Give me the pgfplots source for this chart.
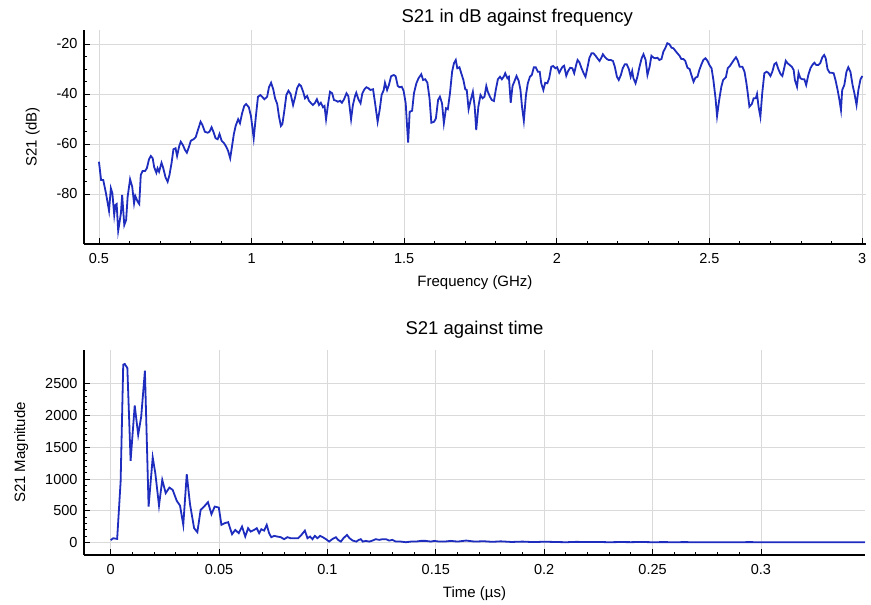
\documentclass[border=0pt]{standalone}
\usepackage{fontspec}
\setmainfont{Liberation Sans}
\usepackage{pgfplots}
\pgfplotsset{compat=1.18}
\definecolor{trace}{RGB}{30,45,190}
\definecolor{gridgray}{RGB}{218,218,218}

\pgfplotsset{
  scopeplot/.style={
    scale only axis,
    axis x line*=bottom, axis y line*=left,
    axis line style={black, line width=1.3pt},
    grid=major, major grid style={gridgray, line width=0.9pt},
    tick style={black, line width=0.9pt},
    major tick length=6pt, minor tick length=3pt,
    tick label style={font=\fontsize{14.5}{16}\selectfont},
    xticklabel style={yshift=-6pt},
    yticklabel style={xshift=-3pt},
    label style={font=\fontsize{15}{18}\selectfont},
    xlabel style={yshift=-5pt},
    ylabel style={yshift=10pt},
    title style={font=\fontsize{18.5}{21}\selectfont, anchor=south, yshift=2pt},
    /pgf/number format/assume math mode=true,
    /pgf/number format/set thousands separator={},
  }
}

\begin{document}
\begin{tikzpicture}
\path[use as bounding box] (-84pt,-361pt) rectangle (787pt,244pt);

% S21 (dB) vs frequency
\begin{axis}[scopeplot,
  at={(0pt,0pt)}, anchor=south west,
  width=782pt, height=214pt,
  xmin=0.451, xmax=3.013, ymin=-100, ymax=-14.4,
  xtick={0.5,1,1.5,2,2.5,3}, xticklabels={0.5,1,1.5,2,2.5,3},
  ytick={-80,-60,-40,-20}, yticklabels={-80,-60,-40,-20},
  minor x tick num=4, minor y tick num=3,
  title={S21 in dB against frequency},
  title style={at={(0.554,1)}, yshift=-8pt},
  xlabel={Frequency (GHz)}, ylabel={S21 (dB)},
]
\addplot[trace, line width=1.8pt] coordinates {
(0.500,-67.1) (0.507,-74.4) (0.514,-74.4) (0.523,-79.7) (0.533,-86.7) (0.539,-77.7)
(0.544,-79.7) (0.550,-88.4) (0.554,-84.4) (0.558,-84.0) (0.563,-94.7) (0.572,-87.7)
(0.576,-80.4) (0.583,-92.4) (0.589,-90.4) (0.594,-81.1) (0.602,-74.1) (0.609,-77.1)
(0.615,-83.7) (0.619,-80.8) (0.627,-83.1) (0.632,-84.0) (0.637,-72.4) (0.643,-70.8)
(0.651,-70.8) (0.657,-69.7) (0.664,-66.1) (0.670,-64.8) (0.676,-65.7) (0.681,-69.3)
(0.688,-71.5) (0.692,-69.7) (0.697,-71.1) (0.705,-67.5) (0.710,-69.3) (0.718,-73.3)
(0.725,-75.1) (0.731,-72.4) (0.738,-67.5) (0.744,-62.1) (0.751,-61.7) (0.756,-64.8)
(0.763,-60.8) (0.768,-59.1) (0.775,-60.4) (0.782,-62.4) (0.788,-63.5) (0.795,-61.1)
(0.801,-58.7) (0.810,-58.1) (0.817,-57.3) (0.825,-54.1) (0.833,-51.1) (0.839,-52.4)
(0.847,-55.1) (0.856,-55.5) (0.862,-55.1) (0.869,-53.3) (0.875,-55.1) (0.882,-57.7)
(0.889,-58.1) (0.895,-56.0) (0.902,-58.7) (0.910,-59.7) (0.917,-61.1) (0.923,-62.7)
(0.930,-65.7) (0.935,-61.7) (0.942,-56.0) (0.948,-52.7) (0.956,-50.1) (0.962,-51.7)
(0.969,-47.7) (0.976,-44.8) (0.982,-44.0) (0.991,-45.3) (0.998,-48.8) (1.007,-57.7)
(1.014,-49.1) (1.021,-41.1) (1.029,-40.4) (1.036,-41.3) (1.042,-42.1) (1.051,-41.1)
(1.057,-37.3) (1.064,-35.5) (1.071,-38.1) (1.077,-41.7) (1.084,-44.0) (1.090,-49.1)
(1.096,-52.8) (1.101,-52.0) (1.108,-46.1) (1.114,-40.4) (1.121,-38.7) (1.128,-40.0)
(1.136,-44.4) (1.143,-41.1) (1.149,-37.7) (1.156,-36.1) (1.162,-36.8) (1.169,-39.1)
(1.175,-41.7) (1.182,-40.8) (1.188,-42.7) (1.195,-43.7) (1.201,-44.4) (1.208,-43.5)
(1.214,-42.1) (1.221,-44.4) (1.227,-43.5) (1.234,-45.3) (1.239,-44.8) (1.244,-50.1)
(1.251,-43.7) (1.257,-39.1) (1.264,-39.7) (1.270,-42.4) (1.277,-42.7) (1.283,-43.1)
(1.290,-42.7) (1.296,-43.5) (1.303,-42.1) (1.311,-39.7) (1.317,-40.8) (1.326,-50.1)
(1.332,-44.4) (1.339,-40.8) (1.343,-39.5) (1.350,-42.1) (1.357,-43.7) (1.363,-39.7)
(1.370,-38.1) (1.376,-37.3) (1.383,-37.7) (1.389,-38.4) (1.398,-38.1) (1.404,-43.1)
(1.413,-51.1) (1.420,-46.1) (1.426,-40.4) (1.433,-38.4) (1.437,-35.5) (1.444,-38.4)
(1.450,-36.4) (1.457,-32.9) (1.466,-32.4) (1.472,-32.9) (1.479,-36.8) (1.485,-37.3)
(1.492,-37.1) (1.498,-38.7) (1.505,-43.7) (1.509,-52.0) (1.513,-59.4) (1.518,-47.1)
(1.526,-46.7) (1.532,-39.7) (1.540,-35.7) (1.547,-33.7) (1.556,-32.1) (1.562,-34.4)
(1.569,-34.1) (1.576,-35.5) (1.583,-41.7) (1.589,-51.5) (1.598,-51.1) (1.604,-49.7)
(1.611,-42.4) (1.617,-41.1) (1.624,-43.7) (1.630,-51.7) (1.637,-45.7) (1.643,-46.1)
(1.650,-39.7) (1.657,-31.1) (1.663,-27.7) (1.669,-26.4) (1.674,-29.7) (1.681,-29.3)
(1.687,-31.7) (1.694,-34.4) (1.700,-38.1) (1.705,-38.4) (1.711,-46.1) (1.718,-42.4)
(1.725,-39.1) (1.731,-45.1) (1.736,-54.4) (1.743,-45.1) (1.750,-40.4) (1.757,-41.7)
(1.763,-41.1) (1.769,-36.8) (1.774,-39.1) (1.781,-41.1) (1.787,-42.4) (1.794,-42.8)
(1.800,-38.4) (1.807,-34.1) (1.814,-33.1) (1.820,-34.1) (1.827,-32.9) (1.831,-31.7)
(1.838,-33.7) (1.843,-33.1) (1.849,-43.5) (1.855,-36.8) (1.862,-34.7) (1.868,-32.8)
(1.875,-34.7) (1.881,-38.4) (1.886,-45.1) (1.892,-50.7) (1.899,-40.4) (1.905,-35.7)
(1.912,-33.1) (1.918,-32.4) (1.925,-29.3) (1.931,-29.3) (1.938,-31.1) (1.944,-31.1)
(1.949,-35.7) (1.956,-38.4) (1.962,-35.5) (1.969,-35.7) (1.975,-33.7) (1.982,-29.1)
(1.988,-28.8) (1.995,-29.7) (2.001,-29.3) (2.008,-31.5) (2.014,-30.1) (2.019,-29.1)
(2.024,-28.7) (2.031,-32.7) (2.037,-30.8) (2.044,-29.5) (2.051,-29.7) (2.057,-31.7)
(2.064,-28.1) (2.068,-26.4) (2.074,-27.3) (2.081,-29.7) (2.088,-31.7) (2.094,-33.1)
(2.101,-29.1) (2.107,-25.5) (2.114,-23.7) (2.120,-23.7) (2.127,-24.7) (2.133,-25.7)
(2.140,-26.8) (2.146,-25.5) (2.151,-24.1) (2.157,-25.1) (2.164,-26.0) (2.170,-26.4)
(2.177,-26.4) (2.184,-26.8) (2.190,-29.1) (2.197,-33.1) (2.203,-34.4) (2.210,-32.4)
(2.216,-29.7) (2.223,-28.1) (2.229,-28.1) (2.236,-30.0) (2.242,-33.1) (2.247,-30.8)
(2.251,-33.7) (2.258,-35.7) (2.264,-33.1) (2.271,-29.1) (2.278,-25.7) (2.284,-24.1)
(2.291,-26.4) (2.297,-32.4) (2.304,-29.1) (2.310,-24.7) (2.317,-25.5) (2.323,-25.7)
(2.330,-25.5) (2.336,-26.4) (2.343,-26.0) (2.349,-23.1) (2.356,-21.5) (2.362,-19.7)
(2.369,-20.1) (2.376,-21.5) (2.382,-21.7) (2.389,-22.8) (2.395,-23.7) (2.402,-24.7)
(2.408,-26.0) (2.415,-26.0) (2.421,-26.8) (2.428,-29.5) (2.435,-30.0) (2.441,-32.4)
(2.448,-35.1) (2.454,-33.5) (2.461,-33.1) (2.467,-30.4) (2.474,-28.1) (2.480,-26.4)
(2.487,-25.7) (2.494,-26.8) (2.500,-28.4) (2.507,-29.7) (2.513,-34.4) (2.520,-41.7)
(2.525,-48.8) (2.532,-42.4) (2.539,-37.1) (2.545,-34.4) (2.554,-33.3) (2.560,-29.7)
(2.567,-28.8) (2.573,-27.7) (2.580,-26.4) (2.587,-25.3) (2.593,-26.7) (2.599,-29.1)
(2.608,-29.1) (2.615,-31.1) (2.621,-35.5) (2.625,-39.1) (2.631,-45.1) (2.639,-44.0)
(2.645,-41.7) (2.652,-41.7) (2.656,-40.0) (2.661,-45.1) (2.667,-49.1) (2.673,-39.7)
(2.680,-31.7) (2.687,-31.1) (2.693,-31.5) (2.700,-32.8) (2.706,-31.1) (2.713,-28.0)
(2.719,-27.5) (2.726,-30.1) (2.733,-32.0) (2.739,-32.8) (2.746,-29.1) (2.750,-26.7)
(2.756,-27.7) (2.763,-28.4) (2.770,-29.1) (2.776,-30.4) (2.780,-34.4) (2.787,-37.1)
(2.792,-31.5) (2.798,-33.7) (2.804,-34.1) (2.811,-34.1) (2.817,-36.4) (2.824,-32.4)
(2.831,-29.7) (2.837,-28.4) (2.844,-27.5) (2.850,-28.4) (2.857,-28.4) (2.863,-27.7)
(2.870,-25.3) (2.876,-24.4) (2.881,-25.7) (2.887,-30.1) (2.894,-31.5) (2.900,-31.5)
(2.907,-31.7) (2.913,-34.4) (2.920,-38.4) (2.926,-42.4) (2.931,-46.4) (2.935,-38.4)
(2.942,-36.4) (2.949,-31.1) (2.955,-29.3) (2.962,-31.1) (2.969,-36.4) (2.975,-39.7)
(2.982,-44.4) (2.988,-38.4) (2.995,-34.1) (3.001,-32.8)
};
\end{axis}

% S21 magnitude vs time
\begin{axis}[scopeplot,
  at={(0pt,-311pt)}, anchor=south west,
  width=781pt, height=205pt,
  xmin=-0.0123, xmax=0.348, ymin=-195, ymax=3030,
  xtick={0,0.05,0.1,0.15,0.2,0.25,0.3},
  xticklabels={0,0.05,0.1,0.15,0.2,0.25,0.3},
  ytick={0,500,1000,1500,2000,2500},
  yticklabels={0,500,1000,1500,2000,2500},
  minor x tick num=4, minor y tick num=4,
  title={S21 against time},
  xlabel={Time (µs)}, ylabel={S21 Magnitude},
]
\addplot[trace, line width=1.8pt] coordinates {
(0.0000,38) (0.0012,69) (0.0030,58) (0.0046,961) (0.0058,2799) (0.0065,2810)
(0.0077,2747) (0.0092,1287) (0.0111,2158) (0.0127,1696) (0.0141,1985) (0.0158,2704)
(0.0175,567) (0.0194,1339) (0.0206,1093) (0.0223,583) (0.0238,987) (0.0254,778)
(0.0271,866) (0.0286,830) (0.0305,657) (0.0320,583) (0.0335,279) (0.0351,1077)
(0.0366,605) (0.0385,227) (0.0400,164) (0.0415,515) (0.0431,567) (0.0449,636)
(0.0465,447) (0.0480,567) (0.0499,551) (0.0511,279) (0.0526,306) (0.0542,321)
(0.0560,132) (0.0575,200) (0.0591,148) (0.0606,252) (0.0621,95) (0.0634,227)
(0.0646,173) (0.0662,200) (0.0674,227) (0.0685,148) (0.0695,211) (0.0708,189)
(0.0720,279) (0.0731,148) (0.0741,85) (0.0754,106) (0.0769,95) (0.0785,85)
(0.0800,54) (0.0815,85) (0.0831,69) (0.0846,69) (0.0865,69) (0.0880,121)
(0.0896,189) (0.0908,69) (0.0920,95) (0.0931,54) (0.0942,106) (0.0954,69)
(0.0966,106) (0.0979,85) (0.0993,54) (0.1008,16) (0.1022,54) (0.1039,85)
(0.1049,43) (0.1062,16) (0.1074,69) (0.1090,121) (0.1102,69) (0.1117,32)
(0.1133,16) (0.1145,43) (0.1154,54) (0.1163,16) (0.1177,27) (0.1193,16)
(0.1208,32) (0.1223,54) (0.1239,43) (0.1254,54) (0.1270,54) (0.1285,32)
(0.1300,43) (0.1316,16) (0.1339,16) (0.1362,6) (0.1385,16) (0.1408,16)
(0.1431,27) (0.1454,27) (0.1477,16) (0.1493,27) (0.1516,16) (0.1539,16)
(0.1570,27) (0.1600,16) (0.1640,32) (0.1680,16) (0.1720,22) (0.1760,12)
(0.1800,20) (0.1850,10) (0.1900,16) (0.1950,8) (0.2000,14) (0.2050,10)
(0.2100,6) (0.2150,12) (0.2200,8) (0.2250,10) (0.2300,6) (0.2350,9)
(0.2400,7) (0.2450,10) (0.2500,6) (0.2550,8) (0.2600,6) (0.2650,8)
(0.2700,5) (0.2750,7) (0.2800,5) (0.2850,7) (0.2900,6) (0.2950,8)
(0.3000,5) (0.3050,7) (0.3100,5) (0.3150,6) (0.3200,5) (0.3250,6)
(0.3300,5) (0.3350,6) (0.3400,5) (0.3450,6) (0.3480,5)
};
\end{axis}
\end{tikzpicture}
\end{document}
